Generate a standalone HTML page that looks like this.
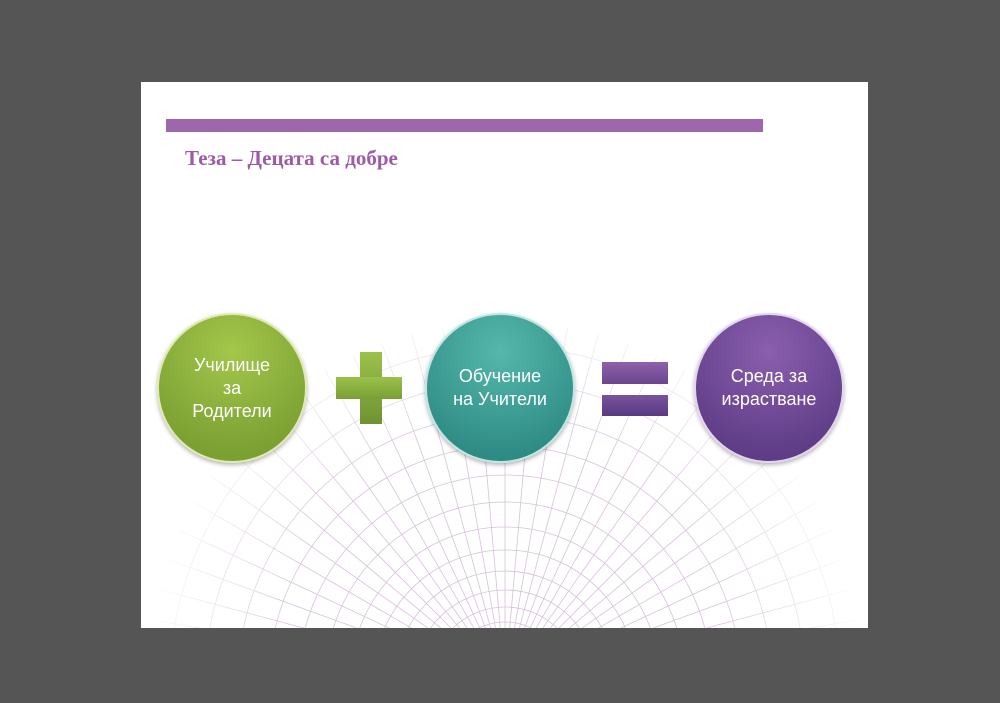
<!DOCTYPE html>
<html><head><meta charset="utf-8"><style>
html,body{margin:0;width:1000px;height:703px;overflow:hidden}
body{background:#555;position:relative;font-family:"Liberation Sans",sans-serif}
#slide{position:absolute;left:141px;top:82px;width:727px;height:546px;background:#fff;overflow:hidden}
.bar{position:absolute;left:25px;top:37px;width:597px;height:13px;background:#9e66ab}
.title{position:absolute;left:44px;top:64px;font:bold 21px "Liberation Serif",serif;color:#9e5aa6;white-space:nowrap}
.c{position:absolute;width:150px;height:150px;border-radius:50%;display:flex;align-items:center;justify-content:center;text-align:center;color:#fff;font-size:18px;line-height:23px;box-shadow:0 2px 4px rgba(0,0,0,.3);border:2px solid #e8efd8;box-sizing:border-box}
</style></head><body>
<div id="slide">
<svg width="727" height="546" style="position:absolute;left:0;top:0" stroke="#b98cc0" fill="none" stroke-width="0.8" opacity="0.55">
<defs><radialGradient id="fade" cx="364" cy="560" r="360" gradientUnits="userSpaceOnUse"><stop offset="0.6" stop-color="#fff" stop-opacity="1"/><stop offset="1" stop-color="#fff" stop-opacity="0"/></radialGradient>
<mask id="m"><rect width="727" height="546" fill="url(#fade)"/></mask></defs>
<g mask="url(#m)">
<g>
<circle cx="364" cy="600" r="60"/><circle cx="364" cy="600" r="75"/><circle cx="364" cy="600" r="92"/><circle cx="364" cy="600" r="111"/><circle cx="364" cy="600" r="132"/><circle cx="364" cy="600" r="155"/><circle cx="364" cy="600" r="180"/><circle cx="364" cy="600" r="207"/><circle cx="364" cy="600" r="236"/><circle cx="364" cy="600" r="267"/><circle cx="364" cy="600" r="300"/><circle cx="364" cy="600" r="335"/>
</g>
<g transform="translate(364,600)">
<line x1="0" y1="-50" x2="0" y2="-360" transform="rotate(-85)"/><line x1="0" y1="-50" x2="0" y2="-360" transform="rotate(-80)"/><line x1="0" y1="-50" x2="0" y2="-360" transform="rotate(-75)"/><line x1="0" y1="-50" x2="0" y2="-360" transform="rotate(-70)"/><line x1="0" y1="-50" x2="0" y2="-360" transform="rotate(-65)"/><line x1="0" y1="-50" x2="0" y2="-360" transform="rotate(-60)"/><line x1="0" y1="-50" x2="0" y2="-360" transform="rotate(-55)"/><line x1="0" y1="-50" x2="0" y2="-360" transform="rotate(-50)"/><line x1="0" y1="-50" x2="0" y2="-360" transform="rotate(-45)"/><line x1="0" y1="-50" x2="0" y2="-360" transform="rotate(-40)"/><line x1="0" y1="-50" x2="0" y2="-360" transform="rotate(-35)"/><line x1="0" y1="-50" x2="0" y2="-360" transform="rotate(-30)"/><line x1="0" y1="-50" x2="0" y2="-360" transform="rotate(-25)"/><line x1="0" y1="-50" x2="0" y2="-360" transform="rotate(-20)"/><line x1="0" y1="-50" x2="0" y2="-360" transform="rotate(-15)"/><line x1="0" y1="-50" x2="0" y2="-360" transform="rotate(-10)"/><line x1="0" y1="-50" x2="0" y2="-360" transform="rotate(-5)"/><line x1="0" y1="-50" x2="0" y2="-360"/><line x1="0" y1="-50" x2="0" y2="-360" transform="rotate(5)"/><line x1="0" y1="-50" x2="0" y2="-360" transform="rotate(10)"/><line x1="0" y1="-50" x2="0" y2="-360" transform="rotate(15)"/><line x1="0" y1="-50" x2="0" y2="-360" transform="rotate(20)"/><line x1="0" y1="-50" x2="0" y2="-360" transform="rotate(25)"/><line x1="0" y1="-50" x2="0" y2="-360" transform="rotate(30)"/><line x1="0" y1="-50" x2="0" y2="-360" transform="rotate(35)"/><line x1="0" y1="-50" x2="0" y2="-360" transform="rotate(40)"/><line x1="0" y1="-50" x2="0" y2="-360" transform="rotate(45)"/><line x1="0" y1="-50" x2="0" y2="-360" transform="rotate(50)"/><line x1="0" y1="-50" x2="0" y2="-360" transform="rotate(55)"/><line x1="0" y1="-50" x2="0" y2="-360" transform="rotate(60)"/><line x1="0" y1="-50" x2="0" y2="-360" transform="rotate(65)"/><line x1="0" y1="-50" x2="0" y2="-360" transform="rotate(70)"/><line x1="0" y1="-50" x2="0" y2="-360" transform="rotate(75)"/><line x1="0" y1="-50" x2="0" y2="-360" transform="rotate(80)"/><line x1="0" y1="-50" x2="0" y2="-360" transform="rotate(85)"/>
</g></g>
</svg>
<div class="bar"></div>
<div class="title">Теза – Децата са добре</div>
<div class="c" style="left:16px;top:231px;background:radial-gradient(circle at 50% 25%,#a3c64a,#7a9f32 80%);border-color:#dfeab0">Училище<br>за<br>Родители</div>
<div style="position:absolute;left:219px;top:270px;width:22px;height:72px;background:linear-gradient(#9bc14b,#6f9232)"></div>
<div style="position:absolute;left:195px;top:295px;width:66px;height:22px;background:linear-gradient(#9bc14b,#7a9f35)"></div>
<div class="c" style="left:284px;top:231px;background:radial-gradient(circle at 50% 25%,#55b8ac,#2e8b84 80%);border-color:#bfe6e2">Обучение<br>на Учители</div>
<div style="position:absolute;left:461px;top:280px;width:66px;height:22px;background:linear-gradient(#8c62aa,#6b4590)"></div>
<div style="position:absolute;left:461px;top:313px;width:66px;height:21px;background:linear-gradient(#7a53a0,#5a3a80)"></div>
<div class="c" style="left:553px;top:231px;background:radial-gradient(circle at 50% 25%,#8a5fae,#5e3c86 80%);border-color:#e2d4ee">Среда за<br>израстване</div>
</div>
</body></html>
